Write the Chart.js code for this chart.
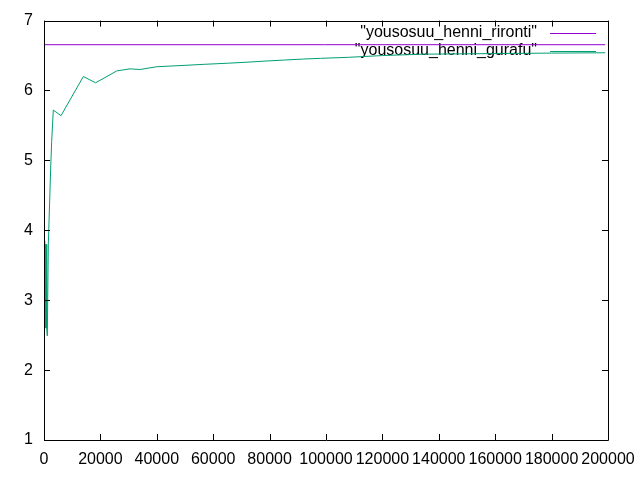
<!DOCTYPE html>
<html>
<head>
<meta charset="utf-8">
<script src="https://cdn.jsdelivr.net/npm/chart.js@4"></script>
<style>
  html, body { margin: 0; padding: 0; background: #fff; }
  #wrap { width: 640px; height: 480px; }
</style>
</head>
<body>
<div id="wrap"><canvas id="chart" width="640" height="480"></canvas></div>
<script>
// theoretical value (flat line)
const rirontiX = [0, 199000];
const rirontiY = [6.655, 6.655];

// measured values
const gurafuX = [100, 200, 300, 400, 500, 600, 700, 800, 900, 1000, 1170, 1530, 2370, 2720, 3300, 6030,
    13950, 18300, 25800, 30500, 34000, 40000, 45000, 50000, 57000, 65000, 72000, 78000, 85000, 92000,
    98000, 108000, 120000, 135000, 150000, 165000, 180000, 199000];
const gurafuY = [3.8, 2.7, 3.85, 2.65, 3.8, 2.6, 3.75, 2.65, 3.8, 2.6, 2.49, 3.8, 4.89, 5.27, 5.72, 5.64,
    6.2, 6.11, 6.28, 6.31, 6.3, 6.34, 6.35, 6.36, 6.375, 6.39, 6.405, 6.42, 6.435, 6.45,
    6.46, 6.475, 6.5, 6.52, 6.525, 6.53, 6.535, 6.54];

const xTicks = [0, 20000, 40000, 60000, 80000, 100000, 120000, 140000, 160000, 180000, 200000];
const yTicks = [1, 2, 3, 4, 5, 6, 7];

const seriesNames = ['"yousosuu_henni_rironti"', '"yousosuu_henni_gurafu"'];
const seriesColors = ['#9400d3', '#009e73'];

const FONT = '16px "Liberation Sans", Arial, sans-serif';

function toPoints(xs, ys) {
    return xs.map((x, i) => ({ x: x, y: ys[i] }));
}

// gnuplot style frame, inward ticks and key
const frame = {
    id: 'frame',
    beforeDatasetsDraw(chart) {
        const { ctx } = chart;
        ctx.save();
        ctx.font = FONT;
        ctx.textAlign = 'right';
        ctx.textBaseline = 'middle';
        const rows = [33, 51];
        seriesNames.forEach((name, i) => {
            ctx.fillStyle = '#000';
            ctx.fillText(name, 537, rows[i]);
            ctx.strokeStyle = seriesColors[i];
            ctx.lineWidth = 1;
            ctx.beginPath();
            ctx.moveTo(550, rows[i] + 0.5);
            ctx.lineTo(596, rows[i] + 0.5);
            ctx.stroke();
        });
        ctx.restore();
    },
    afterDraw(chart) {
        const { ctx, chartArea: a, scales } = chart;
        ctx.save();
        ctx.strokeStyle = '#000';
        ctx.lineWidth = 1;
        ctx.beginPath();
        ctx.rect(Math.round(a.left) + 0.5, Math.round(a.top) + 0.5,
            Math.round(a.right - a.left), Math.round(a.bottom - a.top));
        const len = 6;
        xTicks.forEach(v => {
            const px = Math.round(scales.x.getPixelForValue(v)) + 0.5;
            ctx.moveTo(px, a.bottom); ctx.lineTo(px, a.bottom - len);
            ctx.moveTo(px, a.top); ctx.lineTo(px, a.top + len);
        });
        yTicks.forEach(v => {
            const py = Math.round(scales.y.getPixelForValue(v)) + 0.5;
            ctx.moveTo(a.left, py); ctx.lineTo(a.left + len, py);
            ctx.moveTo(a.right, py); ctx.lineTo(a.right - len, py);
        });
        ctx.stroke();
        ctx.restore();
    }
};

new Chart(document.getElementById('chart'), {
    type: 'line',
    data: {
        datasets: [{
            label: seriesNames[0],
            data: toPoints(rirontiX, rirontiY),
            borderColor: seriesColors[0],
            borderWidth: 1,
            pointRadius: 0,
            tension: 0
        }, {
            label: seriesNames[1],
            data: toPoints(gurafuX, gurafuY),
            borderColor: seriesColors[1],
            borderWidth: 1,
            pointRadius: 0,
            tension: 0
        }]
    },
    options: {
        responsive: false,
        animation: false,
        layout: { padding: { top: 18, right: 32, left: 0, bottom: 0 } },
        scales: {
            x: {
                type: 'linear',
                min: 0,
                max: 200000,
                afterFit: s => { s.height = 40; s.paddingRight = 0; s.paddingLeft = 0; },
                afterBuildTicks: s => { s.ticks = xTicks.map(v => ({ value: v })); },
                grid: { display: false, drawTicks: false },
                border: { display: false },
                ticks: {
                    autoSkip: false,
                    maxRotation: 0,
                    padding: 10,
                    color: '#000',
                    font: { family: '"Liberation Sans", Arial, sans-serif', size: 16 },
                    callback: v => String(v)
                }
            },
            y: {
                min: 1,
                max: 7,
                afterFit: s => { s.width = 44; },
                afterBuildTicks: s => { s.ticks = yTicks.map(v => ({ value: v })); },
                grid: { display: false, drawTicks: false },
                border: { display: false },
                ticks: {
                    padding: 11,
                    color: '#000',
                    font: { family: '"Liberation Sans", Arial, sans-serif', size: 16 },
                    callback: v => String(v)
                }
            }
        },
        plugins: {
            legend: { display: false },
            tooltip: { enabled: false }
        }
    },
    plugins: [frame]
});
</script>
</body>
</html>
